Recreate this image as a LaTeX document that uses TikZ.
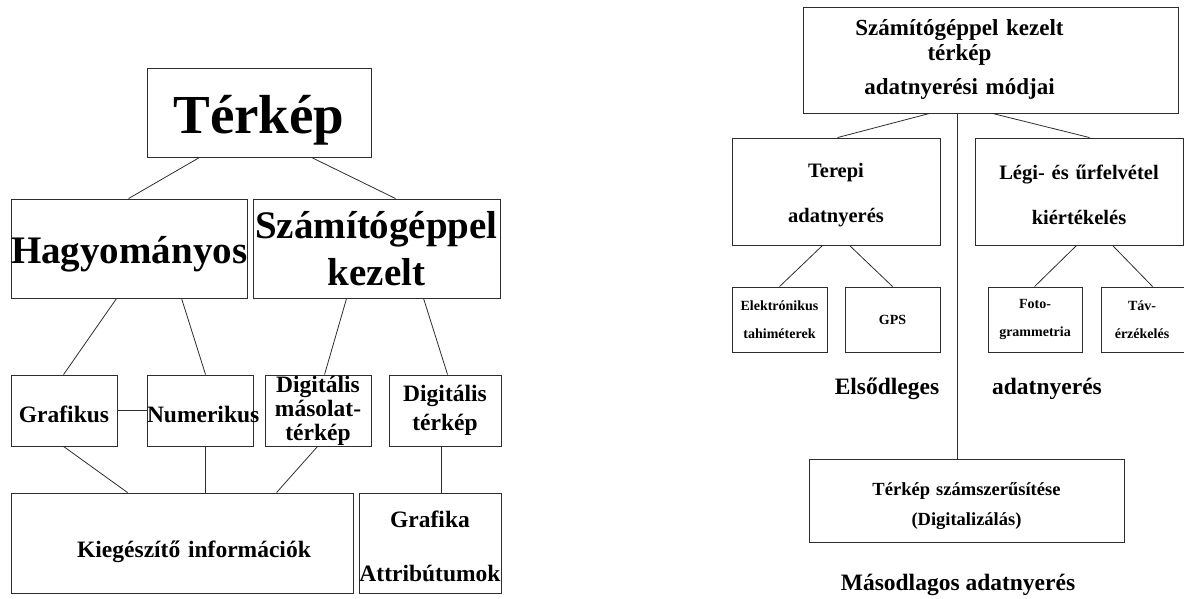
\documentclass[tikz,border=0pt]{standalone}
\usepackage{fontspec}
\setmainfont{Liberation Serif}
\usepackage{tikz}
\usetikzlibrary{calc}
\definecolor{terkepvonal}{RGB}{45,45,45}
\newcommand{\betu}[2]{\fontsize{#1}{#2}\selectfont\bfseries}
\newcommand{\tamasz}[1]{\rule{0pt}{#1}}
\tikzset{
  doboz/.style={draw=terkepvonal,line width=0.9pt,inner sep=0pt,align=center},
  vonal/.style={draw=terkepvonal,line width=0.8pt},
  felirat/.style={anchor=base,inner sep=0pt}
}

\begin{document}
\begin{tikzpicture}[x=1pt,y=-1pt]
  \clip (0,0) rectangle (1184,598);
  % bal oldal: a terkep fajtai
  \node[doboz,text width=224pt,minimum height=89pt,font=\betu{55}{60}] (terkep) at (259,112.5) {\tamasz{53pt}Térkép};
  \node[doboz,text width=236pt,minimum height=99pt,font=\betu{39}{47}] (hagy) at (129,248.5) {\tamasz{38pt}Hagyományos};
  \node[doboz,text width=247pt,minimum height=99pt,font=\betu{39}{47}] (szamgep) at (376.5,248.5) {Számítógéppel\\kezelt};
  \node[doboz,text width=106pt,minimum height=71pt,font=\betu{23.5}{28}] (grafikus) at (64,410.5) {\tamasz{25pt}Grafikus};
  \node[doboz,text width=106pt,minimum height=71pt,font=\betu{23.5}{28}] (numerikus) at (200,410.5) {\tamasz{25pt}Numerikus};
  \node[doboz,text width=106pt,minimum height=71pt,font=\betu{23.5}{24}] (digmas) at (318,410.5) {Digitális\\másolat-\\térkép};
  \node[doboz,text width=112pt,minimum height=71pt,font=\betu{23.5}{29}] (digterk) at (445,410.5) {Digitális\\térkép};
  \node[doboz,text width=342pt,minimum height=100pt,font=\betu{23.5}{28}] (kieg) at (182,543) {\tamasz{35pt}\hspace*{24pt}Kiegészítő információk};
  \node[doboz,text width=142pt,minimum height=100pt,font=\betu{23.5}{54}] (grafattr) at (430,543) {\tamasz{24pt}Grafika\\Attribútumok};
  \draw[vonal] (grafikus.east) -- (numerikus.west);

  % jobb oldal: adatnyeresi modok
  \node[doboz,text width=375pt,minimum height=106pt,font=\betu{23}{25}] (modjai) at (990.5,60)
    {\hspace*{-62pt}\begin{tabular}{@{}c@{}}Számítógéppel kezelt\\térkép\\[9pt]adatnyerési módjai\end{tabular}};
  \node[doboz,text width=208pt,minimum height=107pt,font=\betu{20.5}{45}] (terepi) at (836,191.5) {\tamasz{21pt}Terepi\\adatnyerés};
  \node[doboz,text width=208pt,minimum height=107pt,font=\betu{20.5}{45}] (legi) at (1079,191.5) {\tamasz{21pt}Légi- és űrfelvétel\\kiértékelés};
  \node[doboz,text width=95pt,minimum height=65pt,font=\betu{14}{28}] (elektr) at (779.5,319.5) {Elektrónikus\\tahiméterek};
  \node[doboz,text width=95pt,minimum height=65pt,font=\betu{14}{28}] (gps) at (892.5,319.5) {GPS};
  \node[doboz,text width=94pt,minimum height=65pt,font=\betu{14}{28}] (foto) at (1035,319.5) {Foto-\\grammetria};
  \node[doboz,text width=89pt,minimum height=65pt,font=\betu{14}{28}] (tav) at (1145.5,319.5) {\hspace*{-7pt}Táv-\\\hspace*{-7pt}érzékelés};
  \node[doboz,text width=315pt,minimum height=83pt,font=\betu{18.5}{30}] (digit) at (966.5,500.5) {\tamasz{23.5pt}Térkép számszerűsítése\\(Digitalizálás)};
  \node[felirat,font=\betu{23.5}{28}] (elsod) at (887,394) {Elsődleges};
  \node[felirat,font=\betu{23.5}{28}] (adatny) at (1047,394) {adatnyerés};
  \node[felirat,font=\betu{23.5}{28}] (masod) at (958,590) {Másodlagos adatnyerés};

  % osszekoto vonalak (also el -- felso el, x eltolassal)
  \foreach \a/\da/\b/\db in {
    terkep/53/hagy/118, terkep/165/szamgep/143,
    hagy/106/grafikus/53, hagy/171/numerikus/59,
    szamgep/94/digmas/60, szamgep/171/digterk/59,
    grafikus/53/kieg/117, numerikus/59/kieg/195,
    digmas/53/kieg/266, digterk/53/grafattr/83,
    modjai/127/terepi/106, modjai/190/legi/115, modjai/155/digit/149,
    terepi/91/elektr/48, terepi/118/gps/48,
    legi/102/foto/47, legi/138/tav/52}
    \draw[vonal] ($(\a.south west)+(\da,0)$) -- ($(\b.north west)+(\db,0)$);
\end{tikzpicture}
\end{document}
